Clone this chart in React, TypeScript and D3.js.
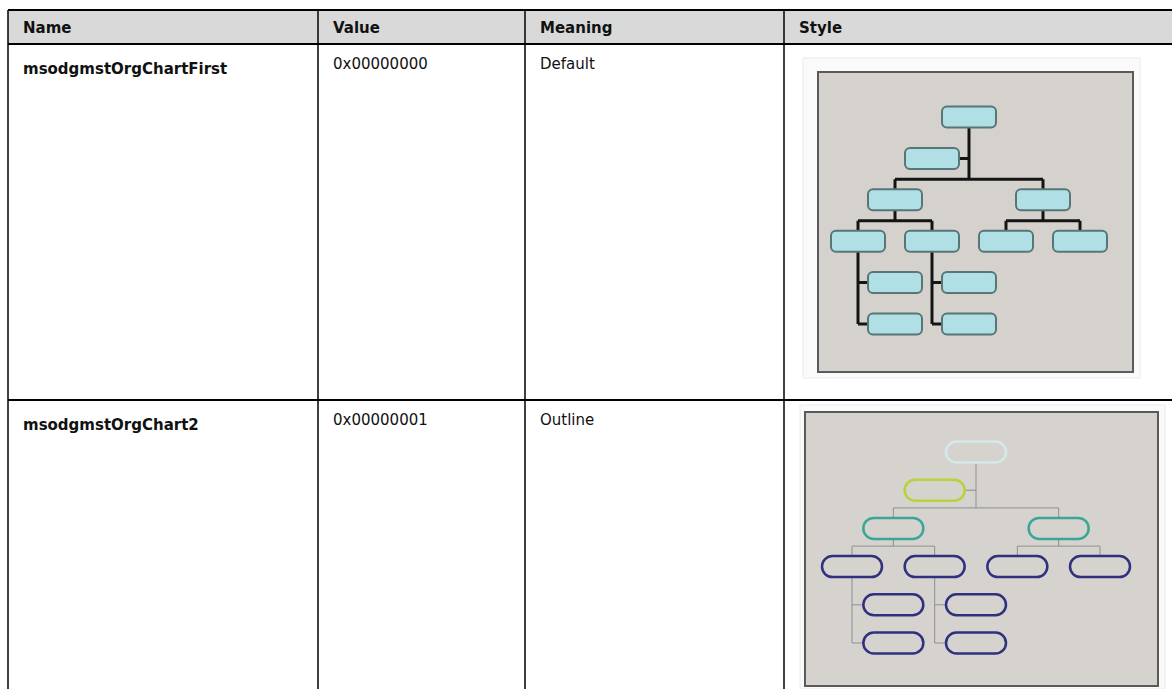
import React, { useEffect, useRef } from 'react';
import * as d3 from 'd3';

// table content
const headers = ['Name', 'Value', 'Meaning', 'Style'];
const names = ['msodgmstOrgChartFirst', 'msodgmstOrgChart2'];
const values = ['0x00000000', '0x00000001'];
const meanings = ['Default', 'Outline'];

// org chart drawn in the Style column (same tree for both rows)
const orgIds = ['root', 'assistant', 'a', 'b', 'a1', 'a2', 'b1', 'b2', 'a1x', 'a1y', 'a2x', 'a2y'];
const orgParents = ['', 'root', 'root', 'root', 'a', 'a', 'b', 'b', 'a1', 'a1', 'a2', 'a2'];
const orgKinds = ['root', 'assistant', 'manager', 'manager', 'staff', 'staff', 'staff', 'staff', 'sub', 'sub', 'sub', 'sub'];

const W = 1172;
const H = 689;
const colX = [8, 318, 525, 784, 1180];
const headTop = 10;
const headBottom = 44;
const rowTop = [44, 400, 700];
const font = '"DejaVu Sans", Verdana, sans-serif';

const styles = [
  {
    box: [818, 72, 1133, 372],
    frame: [803, 58, 1140, 378],
    slots: [858, 1080],
    rows: [117, 324],
    w: 54, h: 21, rx: 5,
    bg: '#d5d2ce',
    fill: () => '#b0dfe5',
    stroke: () => '#587577',
    nodeWidth: 2,
    link: '#141414', linkWidth: 3,
  },
  {
    box: [805, 412, 1158, 686],
    frame: [800, 405, 1165, 689],
    slots: [852, 1100],
    rows: [452, 643],
    w: 60, h: 21, rx: 10.5,
    bg: '#d6d3cf',
    fill: () => 'none',
    stroke: (k) => ({ root: '#d2eaea', assistant: '#b6d33c', manager: '#3ba698' }[k] || '#2f3080'),
    nodeWidth: 2.5,
    link: '#8f8f8f', linkWidth: 1,
  },
];

function layout() {
  const root = d3.stratify<any>()
    .id(d => d.id)
    .parentId(d => d.parent || null)(orgIds.map((id, i) => ({ id, parent: orgParents[i], kind: orgKinds[i] })));
  // slot = column index, row = vertical level
  let leaf = 0;
  const staff = root.descendants().filter(n => n.data.kind === 'staff');
  staff.forEach(n => { (n as any).slot = leaf++; (n as any).row = 3; });
  root.descendants().filter(n => n.data.kind === 'manager').forEach(n => {
    (n as any).slot = d3.mean(n.children!, c => (c as any).slot);
    (n as any).row = 2;
  });
  const mgr = root.children!.filter(c => c.data.kind === 'manager');
  (root as any).slot = d3.mean(mgr, c => (c as any).slot);
  (root as any).row = 0;
  root.children!.filter(c => c.data.kind === 'assistant').forEach(n => {
    (n as any).slot = (root as any).slot - 0.5; (n as any).row = 1;
  });
  root.descendants().filter(n => n.data.kind === 'sub').forEach(n => {
    const sibs = n.parent!.children!;
    (n as any).slot = (n.parent as any).slot + 0.5;
    (n as any).row = 4 + sibs.indexOf(n);
  });
  return root;
}

export default function App() {
  const ref = useRef<SVGSVGElement>(null);

  useEffect(() => {
    const svg = d3.select(ref.current);
    svg.selectAll('*').remove();

    // header band
    svg.append('rect').attr('x', colX[0]).attr('y', headTop).attr('width', W).attr('height', headBottom - headTop).attr('fill', '#d9d9d9');

    svg.selectAll('text.head').data(headers).enter().append('text')
      .attr('x', (d, i) => colX[i] + 15).attr('y', 33)
      .attr('font-family', font).attr('font-weight', 'bold').attr('font-size', 15).attr('fill', '#111')
      .text(d => d);

    names.forEach((n, r) => {
      const y0 = rowTop[r];
      const g = svg.append('g').attr('font-family', font).attr('font-size', 15).attr('fill', '#111');
      g.append('text').attr('x', colX[0] + 15).attr('y', y0 + 30).attr('font-weight', 'bold').text(n);
      g.append('text').attr('x', colX[1] + 15).attr('y', y0 + 25).text(values[r]);
      g.append('text').attr('x', colX[2] + 15).attr('y', y0 + 25).text(meanings[r]);
    });

    // grid lines
    const grid = svg.append('g').attr('stroke', '#000').attr('stroke-width', 2);
    [headTop, headBottom, rowTop[1]].forEach(y => grid.append('line').attr('x1', colX[0]).attr('x2', W).attr('y1', y).attr('y2', y));
    colX.slice(0, 4).forEach(x => grid.append('line').attr('x1', x).attr('x2', x).attr('y1', headTop).attr('y2', H).attr('stroke-width', 1.5));

    const root = layout();
    styles.forEach(s => {
      const g = svg.append('g');
      g.append('rect').attr('x', s.frame[0]).attr('y', s.frame[1]).attr('width', s.frame[2] - s.frame[0]).attr('height', s.frame[3] - s.frame[1])
        .attr('fill', '#fafafa').attr('stroke', '#ececec');
      g.append('rect').attr('x', s.box[0]).attr('y', s.box[1]).attr('width', s.box[2] - s.box[0]).attr('height', s.box[3] - s.box[1])
        .attr('fill', s.bg).attr('stroke', '#5a5a5a').attr('stroke-width', 2);

      const x = d3.scaleLinear().domain([0, 3]).range(s.slots);
      const y = d3.scaleLinear().domain([0, 5]).range(s.rows);
      const px = (n: any) => x(n.slot);
      const py = (n: any) => y(n.row);
      const path = d3.path();

      const bars = (parent: any, kids: any[]) => {
        const by = py(kids[0]) - s.h / 2 - 10;
        path.moveTo(px(parent), py(parent) + s.h / 2); path.lineTo(px(parent), by);
        path.moveTo(d3.min(kids, px)!, by); path.lineTo(d3.max(kids, px)!, by);
        kids.forEach(k => { path.moveTo(px(k), by); path.lineTo(px(k), py(k) - s.h / 2); });
      };

      const mgrs = root.children!.filter(c => c.data.kind === 'manager');
      bars(root, mgrs);
      root.children!.filter(c => c.data.kind === 'assistant').forEach(a => {
        path.moveTo(px(a) + s.w / 2, py(a)); path.lineTo(px(root), py(a));
      });
      mgrs.forEach(m => bars(m, m.children!));
      root.descendants().filter(n => n.children && n.data.kind === 'staff').forEach(n => {
        const kids = n.children!;
        path.moveTo(px(n), py(n) + s.h / 2); path.lineTo(px(n), d3.max(kids, py)!);
        kids.forEach(k => { path.moveTo(px(n), py(k)); path.lineTo(px(k) - s.w / 2, py(k)); });
      });
      g.append('path').attr('d', path.toString()).attr('fill', 'none').attr('stroke', s.link).attr('stroke-width', s.linkWidth);

      g.selectAll('rect.node').data(root.descendants()).enter().append('rect')
        .attr('x', d => px(d) - s.w / 2).attr('y', d => py(d) - s.h / 2)
        .attr('width', s.w).attr('height', s.h).attr('rx', s.rx)
        .attr('fill', d => s.fill(d.data.kind)).attr('stroke', d => s.stroke(d.data.kind))
        .attr('stroke-width', s.nodeWidth);
    });
  }, []);

  return <svg ref={ref} width={W} height={H} style={{ position: 'absolute', left: 0, top: 0, background: '#fff' }} />;
}
